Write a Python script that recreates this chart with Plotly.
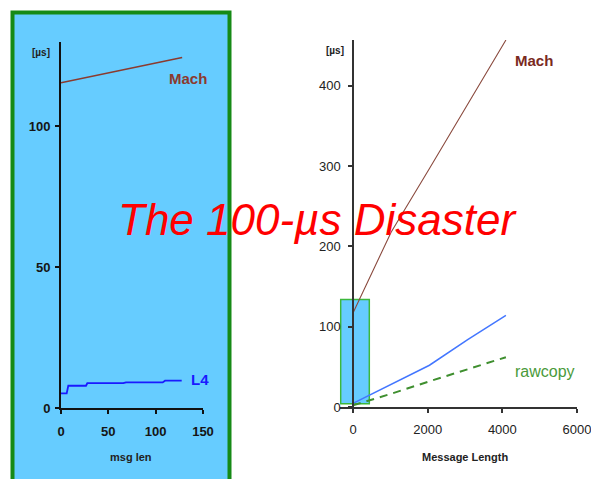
import plotly.graph_objects as go

# ---------------- data ----------------
# left chart (small messages)
small_len = [0, 6, 7.7, 26.4, 27.8, 65.8, 68.7, 107.4, 109.9, 127.5]
small_l4 = [5.2, 5.2, 7.9, 7.9, 8.8, 8.8, 9.1, 9.1, 9.7, 9.7]
small_mach_len = [0, 128]
small_mach = [115.5, 124.5]

# right chart (large messages)
msg_len = [0, 512, 1024, 2048, 3072, 4096]
mach = [117, 168, 218, 297, 377, 457]
l4 = [4.6, 16.5, 28, 52, 84, 114]
rawcopy = [2, 9, 16.5, 32, 47, 62]

left_xticks = [0, 50, 100, 150]
left_yticks = [0, 50, 100]
right_xticks = [0, 2000, 4000, 6000]
right_yticks = [0, 100, 200, 300, 400]

W, H = 591, 479

# ---------------- geometry ----------------
left_xrange = [0, 150]
left_yrange = [0, 130]
right_xrange = [-360, 6000]
right_yrange = [0, 457]
rx0_px, rx1_px = 353, 577          # pixel of x=0 and x=6000
ppu = (rx1_px - rx0_px) / right_xrange[1]
right_dom_left = rx0_px + right_xrange[0] * ppu

BROWN = "#8b3a2e"
BLUE_L = "#1a1aff"
BLUE_R = "#4477ff"
GREEN = "#3f8f2f"
PANEL = "#66ccff"

fig = go.Figure()
fig.add_trace(go.Scatter(x=small_mach_len, y=small_mach, mode="lines",
                         line=dict(color=BROWN, width=1.6), xaxis="x", yaxis="y"))
fig.add_trace(go.Scatter(x=small_len, y=small_l4, mode="lines",
                         line=dict(color=BLUE_L, width=1.8), xaxis="x", yaxis="y"))
fig.add_trace(go.Scatter(x=msg_len, y=mach, mode="lines",
                         line=dict(color="#8a4a3e", width=1.1), xaxis="x2", yaxis="y2"))
fig.add_trace(go.Scatter(x=msg_len, y=l4, mode="lines",
                         line=dict(color=BLUE_R, width=1.5), xaxis="x2", yaxis="y2"))
fig.add_trace(go.Scatter(x=msg_len, y=rawcopy, mode="lines",
                         line=dict(color=GREEN, width=2, dash="8px,6px"), xaxis="x2", yaxis="y2"))

tickfont_l = dict(family="Liberation Sans, Arial", size=13, color="#151515", weight="bold")
tickfont_r = dict(family="Liberation Sans, Arial", size=13, color="#222")
axis_common = dict(showgrid=False, zeroline=False, showline=True, ticks="outside",
                   ticklen=4, tickwidth=1.5, fixedrange=True, automargin=False,
                   ticklabeloverflow="allow")

fig.update_layout(
    width=W, height=H, margin=dict(l=0, r=0, t=0, b=0, pad=0),
    paper_bgcolor="white", plot_bgcolor="rgba(0,0,0,0)", showlegend=False,
    xaxis=dict(domain=[61 / W, 203 / W], range=left_xrange, tickvals=left_xticks,
               linecolor="#111", linewidth=2, tickcolor="#111", anchor="y",
               tickfont=tickfont_l, ticklabelstandoff=6, **axis_common),
    yaxis=dict(domain=[1 - 408 / H, 1 - 42 / H], range=left_yrange, tickvals=left_yticks,
               linecolor="#111", linewidth=2, tickcolor="#111", anchor="x",
               tickfont=tickfont_l, ticklabelstandoff=2, **axis_common),
    xaxis2=dict(domain=[right_dom_left / W, rx1_px / W], range=right_xrange,
                tickvals=right_xticks, linecolor="#333", linewidth=1.5, tickcolor="#333",
                anchor="y2", tickfont=tickfont_r, ticklabelstandoff=6, **axis_common),
    yaxis2=dict(domain=[1 - 407 / H, 1 - 40 / H], range=right_yrange, tickvals=right_yticks,
                linecolor="#333", linewidth=1.5, tickcolor="#333", anchor="free",
                position=rx0_px / W, tickfont=tickfont_r, ticklabelstandoff=5, **axis_common),
)

# left panel background
fig.add_shape(type="rect", xref="paper", yref="paper", x0=12.5 / W, x1=229.5 / W,
              y0=-0.05, y1=1 - 12.5 / H, fillcolor=PANEL,
              line=dict(color="#168a16", width=4), layer="below")
# zoom inset on the right chart
fig.add_shape(type="rect", xref="x2", yref="y2", x0=-330, x1=437, y0=4, y1=134,
              fillcolor=PANEL, line=dict(color="#3cb83c", width=1.5), layer="below")

lab = dict(family="Liberation Sans, Arial", size=10, color="#222")
ann = [
    dict(text="<b>[µs]</b>", x=41 / W, y=1 - 52 / H, xref="paper", yref="paper", font=lab),
    dict(text="<b>[µs]</b>", x=335 / W, y=1 - 50 / H, xref="paper", yref="paper", font=lab),
    dict(text="<b>msg len</b>", x=131 / W, y=1 - 457 / H, xref="paper", yref="paper",
         font=dict(lab, size=11)),
    dict(text="<b>Message Length</b>", x=465 / W, y=1 - 457 / H, xref="paper", yref="paper",
         font=dict(lab, size=11)),
    dict(text="<b>Mach</b>", x=134, y=117, xref="x", yref="y",
         font=dict(family="Liberation Sans, Arial", size=15, color=BROWN)),
    dict(text="<b>L4</b>", x=147, y=10.3, xref="x", yref="y",
         font=dict(family="Liberation Sans, Arial", size=15, color=BLUE_L)),
    dict(text="<b>Mach</b>", x=4849, y=431, xref="x2", yref="y2",
         font=dict(family="Liberation Sans, Arial", size=15, color="#7a2a1e")),
    dict(text="rawcopy", x=5143, y=43.6, xref="x2", yref="y2",
         font=dict(family="Liberation Sans, Arial", size=16, color="#4a9a3a")),
    dict(text="The 100-µs Disaster", x=317 / W, y=1 - 219 / H, xref="paper", yref="paper",
         font=dict(family="Liberation Sans, Arial", size=44, color="#ff0000", style="italic")),
]
for a in ann:
    fig.add_annotation(showarrow=False, xanchor="center", yanchor="middle", **a)

fig.write_html("out.html", config={"displayModeBar": False},
               post_script="document.body.style.margin='0';document.body.style.overflow='hidden';")
